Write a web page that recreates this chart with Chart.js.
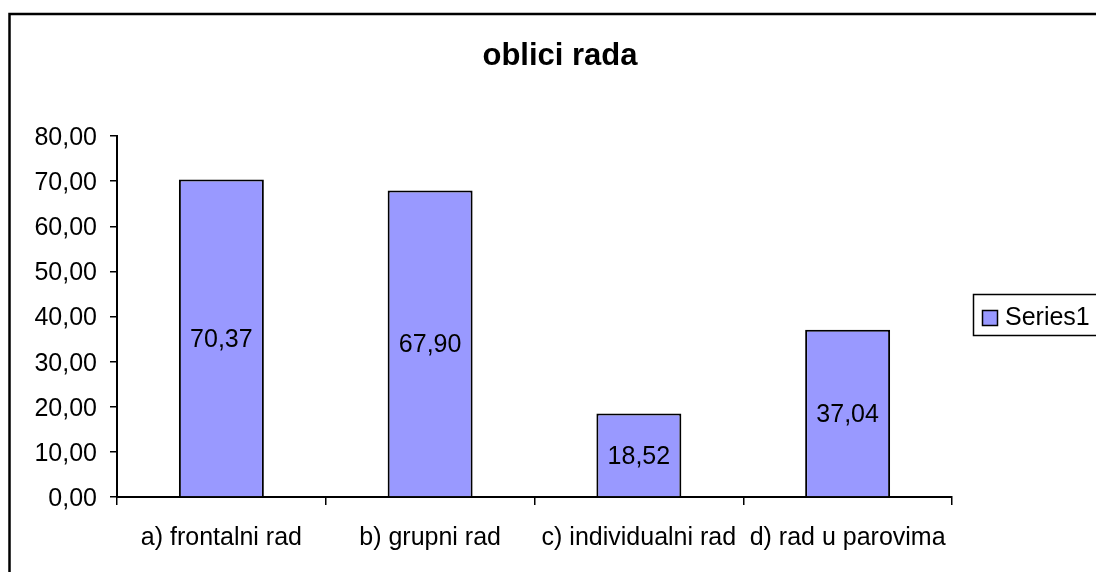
<!DOCTYPE html>
<html>
<head>
<meta charset="utf-8">
<script src="https://cdn.jsdelivr.net/npm/chart.js@4/dist/chart.umd.min.js"></script>
<style>
  html, body { margin: 0; padding: 0; background: #fff; }
</style>
</head>
<body>
<canvas id="chart" width="1096" height="572"></canvas>
<script>
// chart data
var chartTitle = "oblici rada";
var categories = ["a) frontalni rad", "b) grupni rad", "c) individualni rad", "d) rad u parovima"];
var seriesName = "Series1";
var seriesValues = [70.37, 67.90, 18.52, 37.04];
var yMin = 0, yMax = 80, yStep = 10;

var FONT = "'Liberation Sans', Arial, sans-serif";

function fmt(v) {
    return v.toFixed(2).replace(".", ",");
}

// frame, title, legend and value labels
var decorations = {
    id: "decorations",
    afterDatasetsDraw: function (chart) {
        var ctx = chart.ctx;
        var meta = chart.getDatasetMeta(0);
        ctx.save();
        ctx.fillStyle = "#000";
        ctx.font = "25px " + FONT;
        ctx.textAlign = "center";
        ctx.textBaseline = "middle";
        meta.data.forEach(function (bar, i) {
            ctx.fillText(fmt(seriesValues[i]), bar.x, (bar.y + bar.base) / 2 + 2);
        });
        ctx.restore();
    },
    afterDraw: function (chart) {
        var ctx = chart.ctx;
        ctx.save();
        // outer frame
        ctx.strokeStyle = "#000";
        ctx.lineWidth = 2.5;
        ctx.strokeRect(9.5, 14, 1200, 700);
        // title
        ctx.fillStyle = "#000";
        ctx.font = "bold 31px " + FONT;
        ctx.textAlign = "center";
        ctx.textBaseline = "alphabetic";
        ctx.fillText(chartTitle, 560, 65);
        // legend
        var ds = chart.data.datasets[0];
        ctx.lineWidth = 1.5;
        ctx.strokeRect(973.5, 294.5, 200, 41);
        ctx.fillStyle = ds.backgroundColor;
        ctx.fillRect(982.5, 310.5, 15, 15);
        ctx.strokeRect(982.5, 310.5, 15, 15);
        ctx.fillStyle = "#000";
        ctx.font = "25px " + FONT;
        ctx.textAlign = "left";
        ctx.textBaseline = "middle";
        ctx.fillText(ds.label, 1005, 318);
        ctx.restore();
    }
};

var ctx = document.getElementById("chart");
var config = {
    type: "bar",
    data: {
        labels: categories,
        datasets: [
            {
                label: seriesName,
                data: seriesValues,
                backgroundColor: "#9999ff",
                borderColor: "#000",
                borderWidth: 2,
                barPercentage: 0.407,
                categoryPercentage: 1.0
            }
        ]
    },
    options: {
        responsive: false,
        animation: false,
        layout: { padding: { left: 0, right: 144, top: 136, bottom: 0 } },
        plugins: {
            legend: { display: false },
            title: { display: false },
            tooltip: { enabled: false }
        },
        scales: {
            x: {
                afterFit: function (s) { s.height = 75; },
                grid: { display: true, drawOnChartArea: false, drawTicks: true, tickLength: 8, color: "#000", lineWidth: 1.5, offset: true },
                border: { display: true, color: "#000", width: 2 },
                ticks: { color: "#000", font: { family: FONT, size: 25 }, padding: 18, maxRotation: 0, autoSkip: false }
            },
            y: {
                min: yMin,
                max: yMax,
                afterFit: function (s) { s.width = 117; },
                grid: { display: true, drawOnChartArea: false, drawTicks: true, tickLength: 7, color: "#000", lineWidth: 1.5 },
                border: { display: true, color: "#000", width: 2 },
                ticks: {
                    stepSize: yStep,
                    color: "#000",
                    font: { family: FONT, size: 25 },
                    padding: 13,
                    labelOffset: 2,
                    callback: function (v) { return fmt(v); }
                }
            }
        }
    },
    plugins: [decorations]
};
var myChart = new Chart(ctx, config);
</script>
</body>
</html>
